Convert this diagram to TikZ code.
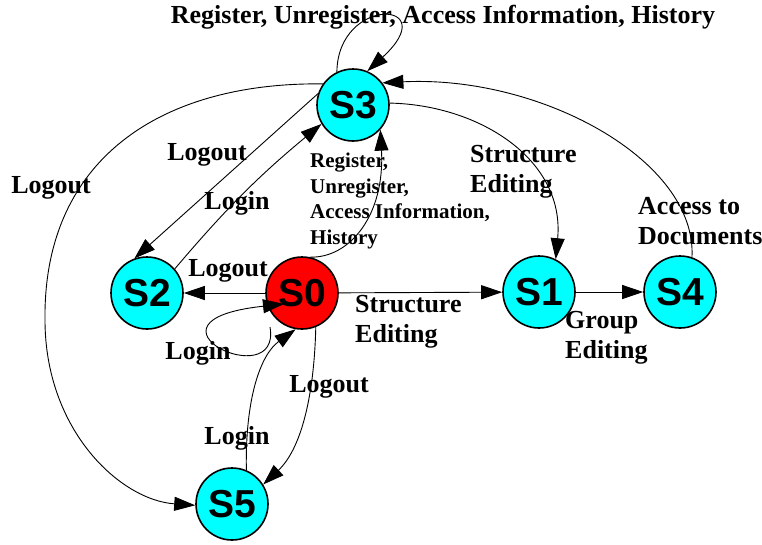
\documentclass[tikz,border=0pt]{standalone}
\usepackage{fontspec}
\setmainfont{Liberation Serif}
\setsansfont{Liberation Sans}
\usetikzlibrary{arrows.meta}
\definecolor{aqua}{RGB}{0,255,255}
\definecolor{pured}{RGB}{255,0,0}
\begin{document}
\begin{tikzpicture}[x=1pt,y=-1pt,
  state/.style={circle,draw=black,line width=1.6pt,minimum size=72pt,inner sep=0pt,fill=aqua,
    font=\sffamily\bfseries\fontsize{39}{39}\selectfont},
  lbl/.style={font=\bfseries\fontsize{26}{30}\selectfont,align=left,inner sep=0pt},
  slbl/.style={font=\bfseries\fontsize{21}{25.5}\selectfont,align=left,inner sep=0pt},
  edge/.style={line width=0.9pt,-{Triangle[length=21pt,width=14pt]}}]
\useasboundingbox (0,0) rectangle (762,544);
% states
\node[state] (s3) at (353,105) {S3};
\node[state] (s2) at (147,293) {S2};
\node[state,fill=pured] (s0) at (302,293) {S0};
\node[state] (s1) at (539,292) {S1};
\node[state] (s4) at (680,292) {S4};
\node[state] (s5) at (232,504) {S5};
\coordinate (l0a) at (270,327);
\coordinate (l0b) at (284,304);
% edges
\draw[edge] (s3.116) .. controls (338,-5) and (445,0) .. (s3.67);
\draw[edge] (s4.71) .. controls (697,160) and (540,75) .. (s3.37);
\draw[edge] (s3.3) .. controls (480,105) and (565,160) .. (s1.63);
\draw[edge] (s3.162) -- (s2.110);
\draw[edge] (s2.41) to[bend left=5] (s3.211);
\draw[edge] (s3.145) .. controls (160,82) and (43,160) .. (45,320)
  .. controls (45,430) and (120,500) .. (s5.182);
\draw[edge] (s0.77) .. controls (350,258) and (385,215) .. (s3.318);
\draw[edge] (s0) -- (s2);
\draw[edge] (l0a) .. controls (282,396) and (125,321) .. (l0b);
\draw[edge] (s0) -- (s1);
\draw[edge] (s1) -- (s4);
\draw[edge] (s0.292) .. controls (314,400) and (300,450) .. (s5.32);
\draw[edge] (s5.67) .. controls (245,400) and (260,355) .. (s0.260);
% labels
\node[lbl] (t1) at (443,17) {Register, Unregister, Access Information, History};
\node[lbl] (t2) at (207,155) {Logout};
\node[lbl] (t3) at (237,203) {Login};
\node[lbl] (t4) at (51,188) {Logout};
\node[lbl] (t5) at (228,271) {Logout};
\node[slbl,anchor=west] (t6) at (310,201) {Register,\\Unregister,\\Access Information,\\History};
\node[lbl,anchor=west] (t7) at (470,172) {Structure\\Editing};
\node[lbl,anchor=west] (t8) at (638,221) {Access to\\Documents};
\node[lbl,anchor=west] (t9) at (355,322) {Structure\\Editing};
\node[lbl,anchor=west] (t10) at (565,338) {Group\\Editing};
\node[lbl] (t11) at (198,353) {Login};
\node[lbl] (t12) at (329,387) {Logout};
\node[lbl] (t13) at (237,438) {Login};
\end{tikzpicture}
\end{document}
